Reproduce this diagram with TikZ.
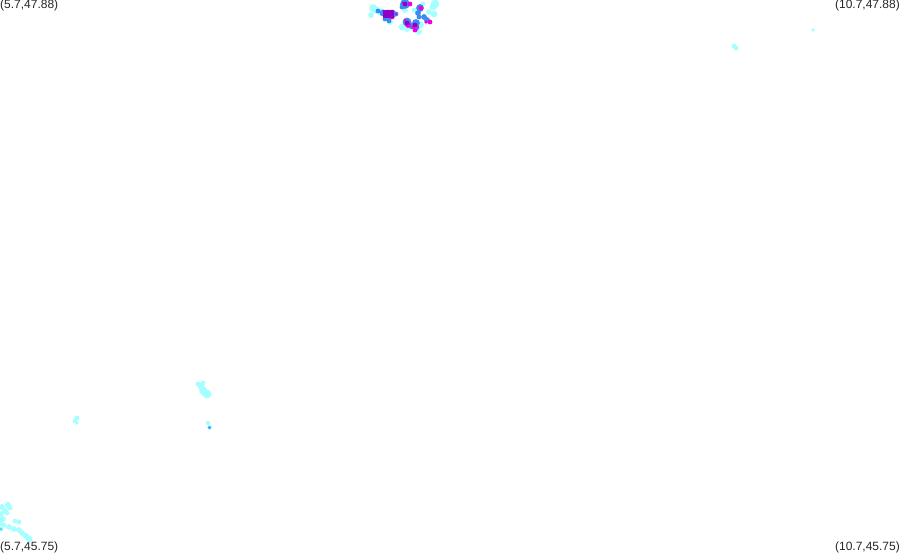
\documentclass[tikz,border=0pt]{standalone}
\usepackage{fontspec}
\setmainfont{Liberation Sans}
\definecolor{lc}{HTML}{A6FFFF}
\definecolor{mc}{HTML}{55D0FF}
\definecolor{bc}{HTML}{3A8CF0}
\definecolor{mg}{HTML}{F000E0}
\definecolor{pu}{HTML}{9000C8}
\newcommand{\blobs}[2]{\foreach \x/\y/\r in {#2}{\fill[#1] (\x,\y) circle ({\r+0.9});}}
\tikzset{x=1pt,y=-1pt,
  corner/.style={font=\fontsize{12}{12}\selectfont,inner sep=0pt,text=black!85}}
\begin{document}
\begin{tikzpicture}
\useasboundingbox (0,0) rectangle (900,552);
\fill[white] (0,0) rectangle (900,552);
\node[corner,anchor=north west] (tl) at (0,0) {(5.7,47.88)};
\node[corner,anchor=north east] (tr) at (900,0) {(10.7,47.88)};
\node[corner,anchor=south west] (bl) at (0,553) {(5.7,45.75)};
\node[corner,anchor=south east] (br) at (900,553) {(10.7,45.75)};
% top cluster
\blobs{lc}{373/8/3,376/10/3,371/15/2,381/12/3,435/4/3.5,433/7/2.5,434/14/2.5,429/12/2,402/27/2.5,407/29/2,419/32/2,405/10/2,423/4/1.5,414/10/1.5,420/25/3,390/22/2}
\blobs{bc}{378/11/1.5,383/13/2.5,388/15/4.5,392/14/3.5,396/14/1.5,389/21/1.5,385/19/1.5,405/4/4,402/7/1.5,420/8/3,418/13/2,419/17/1.5,424/17/2,427/20/2,407/22/3.5,412/26/2.5,416/23/3,416/28/2}
\blobs{mg}{392/17/1.5,396/14/0.6,410/4/1.5,403/3/0.5,421/8/1.5,430/22/1.5,426/22/1,408/25/2,415/30/1.5,413/27/1,405/20/0.5,418/27/0.5}
\fill[pu] (383,10) rectangle (394,18);
\blobs{pu}{405/4/1.5,407/23/1.5,415/25/1.5}
% right
\blobs{lc}{734/46/1.5,736/48/1.5,813/30/1}
% middle left
\blobs{lc}{198/384/1.5,203/383/1.5,201/386/2.5,203/390/3,207/394/3.5,204/392/3,208/423/1.2}
\fill[mc] (209.5,427.5) circle (2);
\fill[bc] (209.5,427.5) circle (1);
\blobs{lc}{77/418/1.5,75/421/1.5,77/423/1}
% bottom left
\blobs{lc}{2/507/2,8/505/2.2,10/508/1.5,5/511/2,1/514/2,7/513/1.5,3/519/2,0/523/2.5,4/525/1.5,15/521/1.5,19/522/1.5,9/527/2,14/529/2,19/530/2,22/533/2,26/536/2.2,29/539/2.5,1/529/1.5}
\fill[mc] (1,529) circle (1.5);
\end{tikzpicture}
\end{document}
